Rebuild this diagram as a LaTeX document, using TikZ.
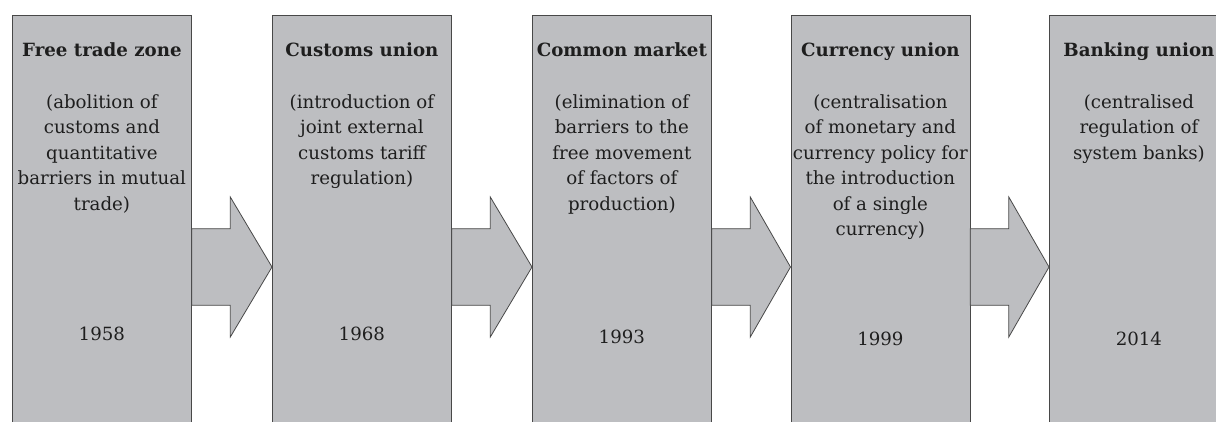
\documentclass[tikz,border=0pt]{standalone}
\usepackage{fontspec}
\setmainfont{DejaVu Serif}
\usetikzlibrary{calc}
\definecolor{boxgray}{HTML}{BDBEC1}
\definecolor{edge}{HTML}{484848}
\definecolor{ink}{HTML}{1E1E1E}
\begin{document}
\begin{tikzpicture}[x=1pt,y=-1pt,
  stage/.style={draw=edge, fill=boxgray, line width=0.8pt, minimum width=179pt,
    minimum height=430pt, inner sep=0pt, anchor=north west},
  ttl/.style={font=\fontsize{18.2}{25.5}\selectfont\bfseries, text=ink, anchor=base, inner sep=0pt},
  desc/.style={font=\fontsize{18.2}{25.5}\selectfont, text=ink, align=center, anchor=north, inner sep=0pt},
  yr/.style={font=\fontsize{18.2}{25.5}\selectfont, text=ink, anchor=base, inner sep=0pt},
  flow/.style={draw=edge, fill=boxgray, line width=0.8pt, line join=miter}]
\useasboundingbox (0,0) rectangle (1216,421);
\clip (0,0) rectangle (1216,421);

% stage boxes (they run past the lower and right edges)
\node[stage] (b1) at (12,15) {};
\node[stage] (b2) at (272,15) {};
\node[stage] (b3) at (532,15) {};
\node[stage] (b4) at (790.5,15) {};
\node[stage] (b5) at (1049,15) {};

% block arrows between consecutive stages
\foreach \a/\b in {b1/b2,b2/b3,b3/b4,b4/b5}{
  \path (\a.north east) ++(0,252) coordinate (s);
  \draw[flow] (s) ++(0,-38.3) -- ++(38.5,0) -- ++(0,-31.7)
    -- (s -| \b.west) -- ($(s)+(38.5,70)$) -- ++(0,-31.7) -- ++(-38.5,0) -- cycle;
}

% titles
\node[ttl] (t1) at ([yshift=-41.7pt]b1.north) {Free trade zone};
\node[ttl] (t2) at ([yshift=-41.7pt]b2.north) {Customs union};
\node[ttl] (t3) at ([yshift=-41.7pt]b3.north) {Common market};
\node[ttl] (t4) at ([yshift=-41.7pt]b4.north) {Currency union};
\node[ttl] (t5) at ([yshift=-41.7pt]b5.north) {Banking union};

% descriptions
\node[desc] (d1) at ([yshift=-79.2pt]b1.north) {(abolition of\\customs and\\quantitative\\barriers in mutual\\trade)};
\node[desc] (d2) at ([yshift=-79.2pt]b2.north) {(introduction of\\joint external\\customs tariff\\regulation)};
\node[desc] (d3) at ([yshift=-79.2pt]b3.north) {(elimination of\\barriers to the\\free movement\\of factors of\\production)};
\node[desc] (d4) at ([yshift=-79.2pt]b4.north) {(centralisation\\of monetary and\\currency policy for\\the introduction\\of a single\\currency)};
\node[desc] (d5) at ([yshift=-79.2pt]b5.north) {(centralised\\regulation of\\system banks)};

% years
\node[yr] (y1) at ([yshift=-325pt]b1.north) {1958};
\node[yr] (y2) at ([yshift=-325pt]b2.north) {1968};
\node[yr] (y3) at ([yshift=-328pt]b3.north) {1993};
\node[yr] (y4) at ([yshift=-330pt]b4.north) {1999};
\node[yr] (y5) at ([yshift=-330pt]b5.north) {2014};
\end{tikzpicture}
\end{document}
